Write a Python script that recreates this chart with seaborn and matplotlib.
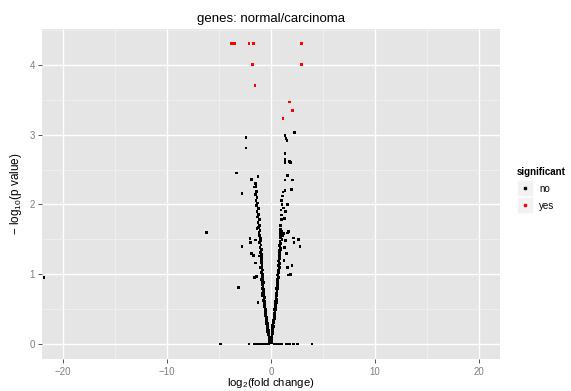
import numpy as np
import pandas as pd
import matplotlib
matplotlib.use('Agg')
import matplotlib.pyplot as plt
import seaborn as sns
from matplotlib.patches import Rectangle
from matplotlib.lines import Line2D
from matplotlib.ticker import MultipleLocator

# significant genes (red)
sig_x = [-3.77, -3.52, -2.11, -1.70, -1.79, 2.94, 2.94, -1.53, 1.76, 2.04, 1.15]
sig_y = [4.31, 4.31, 4.31, 4.31, 4.01, 4.31, 4.01, 3.71, 3.47, 3.35, 3.23]

# left arm of the volcano
left_x = [-0.05, -0.10, -0.15, -0.12, -0.20, -0.08, -0.18,
          -0.22, -0.25, -0.30, -0.27, -0.33, -0.36, -0.30, -0.40,
          -0.42, -0.38, -0.46, -0.44, -0.50, -0.47, -0.53, -0.50, -0.57, -0.55,
          -0.60, -0.58, -0.64, -0.62, -0.67, -0.65, -0.70, -0.68, -0.74, -0.72, -0.80,
          -0.76, -0.78, -0.74, -0.82, -0.80, -0.85, -0.78, -0.88, -0.83, -0.90,
          -0.86, -0.92, -0.88, -0.95, -0.90, -1.00, -0.93, -1.05, -0.97, -1.10, -1.00,
          -1.02, -1.08, -1.15, -1.05, -1.20, -1.10, -1.25, -1.12, -1.30, -1.18, -1.35, -1.22, -1.40,
          -1.28, -1.45, -1.35, -1.50, -1.40, -1.55, -1.48,
          -1.70, -1.50, -2.01, -1.95, -1.50, -1.90, -1.60, -1.35, -1.25,
          -0.28, -0.35, -0.45, -0.52, -0.62, -0.70, -0.78, -0.86, -0.95, -1.02, -1.12]
left_y = [0.02, 0.04, 0.06, 0.08, 0.10, 0.05, 0.03,
          0.13, 0.16, 0.18, 0.20, 0.22, 0.25, 0.27, 0.29,
          0.31, 0.33, 0.35, 0.38, 0.40, 0.42, 0.44, 0.46, 0.48, 0.50,
          0.53, 0.56, 0.58, 0.61, 0.64, 0.67, 0.70, 0.73, 0.75, 0.78, 0.72,
          0.81, 0.85, 0.88, 0.90, 0.94, 0.97, 1.00, 1.03, 1.06, 1.09,
          1.12, 1.16, 1.20, 1.24, 1.28, 1.31, 1.35, 1.38, 1.42, 1.45, 1.48,
          1.52, 1.56, 1.60, 1.63, 1.67, 1.70, 1.74, 1.78, 1.82, 1.86, 1.90, 1.94, 1.98,
          2.02, 2.06, 2.10, 2.14, 2.19, 2.25, 2.30,
          1.27, 1.16, 1.51, 1.46, 1.49, 1.30, 0.95, 1.65, 0.60,
          0.24, 0.30, 0.37, 0.45, 0.55, 0.62, 0.70, 0.80, 0.92, 1.10, 1.26]

# right arm of the volcano
right_x = [0.02, 0.05, 0.00, 0.08, 0.04, 0.10,
           0.10, 0.14, 0.12, 0.18, 0.16, 0.22, 0.20,
           0.26, 0.24, 0.30, 0.28, 0.34, 0.32, 0.38, 0.36,
           0.42, 0.40, 0.46, 0.44, 0.50, 0.48, 0.54, 0.52, 0.58, 0.56,
           0.60, 0.64, 0.60, 0.68, 0.64, 0.70, 0.66, 0.72, 0.70, 0.76,
           0.72, 0.78, 0.75, 0.82, 0.78, 0.85, 0.80, 0.88, 0.84, 0.90, 0.86,
           0.88, 0.92, 0.95, 0.90, 1.00, 0.93, 1.05, 1.10, 1.20,
           0.95, 0.98, 1.02, 0.96, 1.05, 1.00, 1.10, 1.15,
           2.14, 2.65, 2.78, 2.20, 1.66, 1.57, 1.40, 1.30, 1.50, 1.25, 1.85, 1.60,
           1.30, 1.40, 1.60, 1.20, 1.35,
           0.18, 0.26, 0.33, 0.40, 0.50, 0.58, 0.66, 0.75, 0.82, 0.92]
right_y = [0.02, 0.04, 0.06, 0.08, 0.10, 0.03,
           0.12, 0.15, 0.18, 0.20, 0.23, 0.25, 0.28,
           0.31, 0.34, 0.36, 0.39, 0.41, 0.44, 0.46, 0.49,
           0.52, 0.55, 0.58, 0.61, 0.64, 0.67, 0.70, 0.73, 0.76, 0.79,
           0.82, 0.85, 0.88, 0.90, 0.93, 0.96, 0.99, 1.02, 1.05, 1.08,
           1.12, 1.15, 1.19, 1.22, 1.26, 1.30, 1.34, 1.37, 1.41, 1.44, 1.47,
           1.52, 1.55, 1.58, 1.60, 1.62, 1.64, 1.50, 1.55, 1.58,
           1.70, 1.78, 1.85, 1.92, 2.00, 2.06, 2.12, 2.18,
           1.52, 1.50, 1.40, 1.45, 1.61, 1.59, 1.48, 1.38, 1.30, 1.20, 1.00, 1.10,
           1.80, 1.90, 2.00, 1.95, 2.20,
           0.26, 0.33, 0.42, 0.50, 0.60, 0.70, 0.80, 0.95, 1.10, 1.35]

# scattered non-significant genes
out_x = [2.24, -2.40, 1.34, 1.44, 1.53, -2.40, 1.34, 1.34, 1.76, 1.34, 1.85,
         -3.29, -1.89, -1.25, 1.60, 1.34, 2.04, -1.44, 1.95, -2.78, -6.17, -2.78,
         2.01, -1.41, 1.66, -3.13, -21.8]
out_y = [3.03, 2.96, 2.99, 2.95, 2.92, 2.81, 2.73, 2.64, 2.62, 2.60, 2.60,
         2.45, 2.36, 2.40, 2.41, 2.35, 2.35, 2.26, 2.22, 2.16, 1.60, 1.40,
         1.13, 0.97, 0.99, 0.81, 0.95]

# genes with p value = 1
zero_x = [-4.82, -2.11, -1.63, -1.50, -1.35, -1.20, -1.00, -0.86, -0.60, -0.40, -0.20,
          0.29, 0.45, 0.60, 0.80, 1.05, 1.50, 1.75, 2.14, 2.52, 3.93]

ns_x = left_x + right_x + out_x + zero_x
ns_y = left_y + right_y + out_y + [0.0] * len(zero_x)

df = pd.DataFrame({
    'log2fc': ns_x + sig_x,
    'logp': ns_y + sig_y,
    'significant': ['no'] * len(ns_x) + ['yes'] * len(sig_x),
})
palette = {'no': 'black', 'yes': 'red'}

plt.rcParams['font.family'] = ['Liberation Sans', 'DejaVu Sans']
plt.rcParams['mathtext.fontset'] = 'custom'
plt.rcParams['mathtext.rm'] = 'Liberation Sans'
plt.rcParams['mathtext.it'] = 'Liberation Sans:italic'

fig = plt.figure(figsize=(5.71, 3.91), dpi=100)
ax = fig.add_axes([42 / 571, 1 - 359 / 391, 458 / 571, 330 / 391])
ax.set_facecolor('#E5E5E5')

sns.scatterplot(data=df, x='log2fc', y='logp', hue='significant', palette=palette,
                s=4, linewidth=0, marker='s', legend=False, ax=ax, zorder=3)

ax.set_xlim(-22, 22)
ax.set_ylim(-0.215, 4.515)
ax.xaxis.set_major_locator(MultipleLocator(10))
ax.xaxis.set_minor_locator(MultipleLocator(5))
ax.yaxis.set_major_locator(MultipleLocator(1))
ax.yaxis.set_minor_locator(MultipleLocator(0.5))
ax.grid(which='major', color='white', linewidth=1.0, zorder=0)
ax.grid(which='minor', color='#F2F2F2', linewidth=0.5, zorder=0)
ax.set_axisbelow(True)
for s in ax.spines.values():
    s.set_visible(False)
ax.tick_params(which='major', length=3, width=0.6, color='#333333',
               labelcolor='#7F7F7F', labelsize=7, pad=2)
ax.tick_params(axis='x', which='major', pad=3)
ax.tick_params(which='minor', length=0)

ax.set_xlabel('log$_2$(fold change)', fontsize=8.2)
ax.xaxis.set_label_coords(0.5, -(390 - 359) / 330, transform=ax.transAxes)
ax.get_xaxis().label.set_va('bottom')
ax.set_ylabel('$-$ log$_{10}$(p value)', fontsize=8.5, labelpad=4)
ax.set_title('genes: normal/carcinoma', fontsize=9.5, pad=5)

# legend drawn in the ggplot style
fig.text(517 / 571, 1 - 172 / 391, 'significant', fontsize=7, fontweight='bold',
         va='center', ha='left')
for i, lab in enumerate(palette):
    top = 180 + i * 17
    fig.add_artist(Rectangle((517 / 571, 1 - (top + 16) / 391), 16 / 571, 16 / 391,
                             transform=fig.transFigure, facecolor='#F2F2F2',
                             edgecolor='white', linewidth=0.5))
    fig.add_artist(Line2D([525 / 571], [1 - (top + 8) / 391], transform=fig.transFigure,
                          marker='s', markersize=1.5, color=palette[lab], linestyle='none'))
    fig.text(539 / 571, 1 - (top + 9) / 391, lab, fontsize=7, va='center', ha='left')

fig.savefig('out.png', dpi=100)
